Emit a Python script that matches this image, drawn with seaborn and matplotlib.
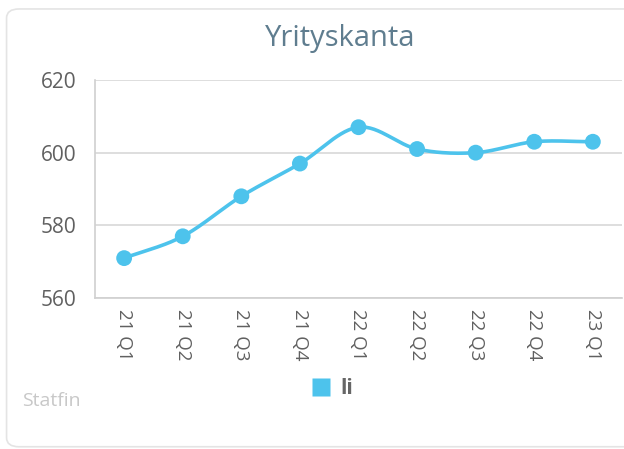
import numpy as np
import pandas as pd
import matplotlib
matplotlib.use('Agg')
import matplotlib.pyplot as plt
from matplotlib.patches import FancyBboxPatch
import seaborn as sns

# data
quarters = ['21 Q1', '21 Q2', '21 Q3', '21 Q4', '22 Q1', '22 Q2', '22 Q3', '22 Q4', '23 Q1']
values = [571, 577, 588, 597, 607, 601, 600, 603, 603]
series_name = 'li'
title = 'Yrityskanta'
source = 'Statfin'

line_color = '#4dc3ec'

sns.set_style('white')
plt.rcParams['font.family'] = ['Open Sans', 'DejaVu Sans']

df = pd.DataFrame({'q': quarters, 'v': values})
df['x'] = np.arange(len(df))


# smooth curve through the points (cubic hermite, like a web chart "spline")
def smooth(x, y, n=30):
    x = np.asarray(x, float)
    y = np.asarray(y, float)
    m = np.zeros_like(y)
    m[1:-1] = (y[2:] - y[:-2]) / (x[2:] - x[:-2])
    m[0] = y[1] - y[0]
    m[-1] = y[-1] - y[-2]
    xs, ys = [], []
    for i in range(len(x) - 1):
        t = np.linspace(0, 1, n, endpoint=False)
        h = x[i + 1] - x[i]
        h00 = 2 * t**3 - 3 * t**2 + 1
        h10 = t**3 - 2 * t**2 + t
        h01 = -2 * t**3 + 3 * t**2
        h11 = t**3 - t**2
        xs.append(x[i] + t * h)
        ys.append(h00 * y[i] + h10 * h * m[i] + h01 * y[i + 1] + h11 * h * m[i + 1])
    xs.append([x[-1]])
    ys.append([y[-1]])
    return np.concatenate(xs), np.concatenate(ys)


sx, sy = smooth(df['x'], df['v'])
curve = pd.DataFrame({'x': sx, 'y': sy})

fig = plt.figure(figsize=(6.24, 4.49), dpi=100)

# card background
card = FancyBboxPatch((0.0105, 0.005), 1.2, 0.975, boxstyle='round,pad=0,rounding_size=0.02',
                      transform=fig.transFigure, facecolor='white', edgecolor='#e4e4e4',
                      linewidth=1.2, zorder=-1)
fig.patches.append(card)

ax = fig.add_axes([0.152, 0.336, 0.845, 0.486])
ax.set_facecolor('none')

sns.lineplot(data=curve, x='x', y='y', ax=ax, color=line_color, linewidth=2.6, sort=False)
sns.scatterplot(data=df, x='x', y='v', ax=ax, color=line_color, s=130, edgecolor='none', zorder=3)

ax.set_xlim(-0.5, len(quarters) - 0.5)
ax.set_ylim(560, 620)
ax.set_yticks([560, 580, 600, 620])
ax.set_xticks(df['x'])
ax.set_xticklabels(quarters, rotation=270, fontsize=13.5, color='#606060')
ax.tick_params(axis='y', labelsize=15, labelcolor='#606060', length=0, pad=13)
ax.tick_params(axis='x', length=0, pad=8)
ax.set_xlabel('')
ax.set_ylabel('')
ax.grid(axis='y', color='#d8d8d8', linewidth=1.2)
for s in ['top', 'right']:
    ax.spines[s].set_visible(False)
ax.spines['left'].set_color('#d0d0d0')
ax.spines['bottom'].set_color('#d0d0d0')
ax.spines['left'].set_linewidth(1.2)
ax.spines['bottom'].set_linewidth(1.2)

fig.text(0.545, 0.915, title, ha='center', va='center', fontsize=21, color='#5f7d8f')
fig.text(0.035, 0.108, source, ha='left', va='center', fontsize=14, color='#c8c8c8')

# legend
handle = plt.Line2D([], [], marker='s', linestyle='none', markersize=13,
                    markerfacecolor=line_color, markeredgecolor='none')
leg = fig.legend([handle], [series_name], loc='center', bbox_to_anchor=(0.532, 0.134),
                 frameon=False, fontsize=15, handletextpad=0.4, handlelength=1.0)
for t in leg.get_texts():
    t.set_color('#666666')
    t.set_fontweight('bold')

plt.savefig('out.png', dpi=100)
plt.close()
